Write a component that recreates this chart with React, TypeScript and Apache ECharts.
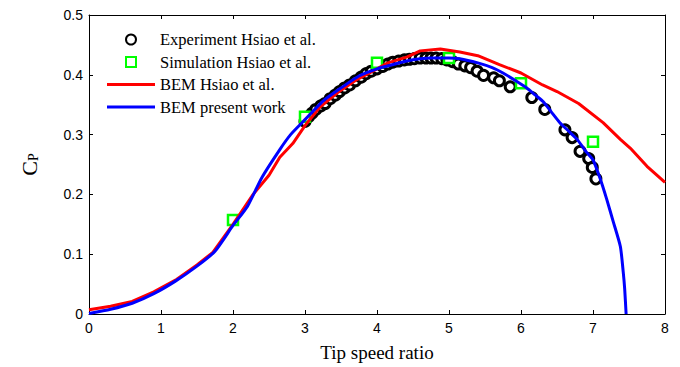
import React, { useEffect, useRef } from "react";
import * as echarts from "echarts";

const expX = [3.0, 3.05, 3.1, 3.15, 3.22, 3.28, 3.35, 3.42, 3.48, 3.55, 3.62, 3.7, 3.78, 3.85, 3.92, 4.0, 4.08, 4.15, 4.22, 4.3, 4.38, 4.45, 4.52, 4.6, 4.68, 4.75, 4.82, 4.9, 4.97, 5.05, 5.13, 5.22, 5.3, 5.39, 5.48, 5.62, 5.7, 5.85, 6.15, 6.33, 6.61, 6.71, 6.82, 6.94, 6.99, 7.04];
const expY = [0.322, 0.33, 0.336, 0.342, 0.348, 0.352, 0.36, 0.366, 0.372, 0.378, 0.383, 0.39, 0.396, 0.402, 0.406, 0.41, 0.414, 0.418, 0.421, 0.423, 0.425, 0.426, 0.427, 0.428, 0.428, 0.428, 0.428, 0.427, 0.425, 0.422, 0.418, 0.415, 0.412, 0.406, 0.399, 0.395, 0.39, 0.38, 0.362, 0.342, 0.308, 0.295, 0.272, 0.26, 0.245, 0.226];

const simX = [2, 3, 4, 5, 6, 7];
const simY = [0.157, 0.33, 0.42, 0.428, 0.386, 0.288];

const bemHX = [0, 0.3, 0.6, 0.9, 1.22, 1.5, 1.72, 2.0, 2.28, 2.5, 2.65, 2.83, 3.0, 3.2, 3.45, 3.72, 4.0, 4.15, 4.42, 4.6, 4.88, 5.15, 5.4, 5.7, 6.0, 6.3, 6.5, 6.8, 7.14, 7.38, 7.52, 7.75, 8.0];
const bemHY = [0.007, 0.013, 0.021, 0.037, 0.058, 0.082, 0.103, 0.15, 0.2, 0.232, 0.262, 0.285, 0.315, 0.345, 0.37, 0.392, 0.41, 0.42, 0.43, 0.44, 0.443, 0.438, 0.432, 0.417, 0.403, 0.383, 0.372, 0.352, 0.32, 0.292, 0.277, 0.247, 0.22];

const bemPX = [0, 0.3, 0.6, 0.9, 1.2, 1.5, 1.75, 2.0, 2.2, 2.4, 2.65, 2.8, 3.0, 3.25, 3.5, 3.75, 4.0, 4.25, 4.5, 4.75, 5.0, 5.15, 5.4, 5.6, 5.75, 5.9, 6.08, 6.2, 6.31, 6.42, 6.54, 6.66, 6.78, 6.9, 7.0, 7.1, 7.19, 7.28, 7.38, 7.42, 7.44, 7.46];
const bemPY = [0.001, 0.008, 0.018, 0.034, 0.055, 0.08, 0.105, 0.148, 0.18, 0.228, 0.275, 0.3, 0.325, 0.356, 0.378, 0.398, 0.41, 0.418, 0.425, 0.428, 0.428, 0.427, 0.42, 0.412, 0.403, 0.392, 0.378, 0.366, 0.355, 0.338, 0.32, 0.306, 0.292, 0.272, 0.258, 0.226, 0.192, 0.155, 0.113, 0.07, 0.042, 0.0];

const xTicks = ["0", "1", "2", "3", "4", "5", "6", "7", "8"];
const yTicks = ["0", "0.1", "0.2", "0.3", "0.4", "0.5"];

const zip = (xs: number[], ys: number[]) => xs.map((x, i) => [x, ys[i]]);

export default function App() {
  const ref = useRef<HTMLDivElement>(null);
  useEffect(() => {
    if (!ref.current) return;
    const chart = echarts.init(ref.current, null, { renderer: "svg" });
    const axisCommon = {
      axisLine: { show: true, onZero: false, lineStyle: { color: "#000", width: 1 } },
      axisTick: { show: true, inside: true, length: 4, lineStyle: { color: "#000" } },
      splitLine: { show: false },
    };
    const labelStyle = { color: "#000", fontFamily: "Liberation Sans", fontSize: 14 };
    const squareIcon = "path://M0,0L10,0L10,10L0,10Z";
    const lineIcon = "path://M0,0L48,0L48,3L0,3Z";
    chart.setOption({
      animation: false,
      backgroundColor: "#fff",
      grid: { left: 89, top: 15, right: 15, bottom: 52 },
      legend: {
        left: 107,
        top: 31,
        padding: 0,
        orient: "vertical",
        itemWidth: 48,
        itemHeight: 10,
        itemGap: 5.5,
        symbolKeepAspect: true,
        textStyle: { fontFamily: "Liberation Serif", fontSize: 16.5, color: "#000", lineHeight: 17 },
        data: [
          { name: "Experiment Hsiao et al.", icon: "circle" },
          { name: "Simulation Hsiao et al.", icon: squareIcon },
          { name: "BEM Hsiao et al.", icon: lineIcon, itemStyle: { color: "#ff0000", borderWidth: 0 } },
          { name: "BEM present work", icon: lineIcon, itemStyle: { color: "#0000ff", borderWidth: 0 } },
        ],
      },
      xAxis: [
        {
          type: "value",
          min: 0,
          max: 8,
          interval: 1,
          position: "bottom",
          ...axisCommon,
          axisLabel: { ...labelStyle, margin: 7, formatter: (v: number) => xTicks[Math.round(v)] },
          name: "Tip speed ratio",
          nameLocation: "middle",
          nameGap: 29,
          nameTextStyle: { fontFamily: "Liberation Serif", fontSize: 19, color: "#000" },
        },
        {
          type: "value",
          min: 0,
          max: 8,
          interval: 1,
          position: "top",
          ...axisCommon,
          axisLabel: { show: false },
        },
      ],
      yAxis: [
        {
          type: "value",
          min: 0,
          max: 0.5,
          interval: 0.1,
          position: "left",
          ...axisCommon,
          axisLabel: { ...labelStyle, margin: 6, formatter: (v: number) => yTicks[Math.round(v * 10)] },
          name: "{c|C}{p|P}",
          nameLocation: "middle",
          nameGap: 49,
          nameRotate: 90,
          nameTextStyle: {
            rich: {
              c: { fontFamily: "Liberation Serif", fontSize: 22, color: "#000" },
              p: { fontFamily: "Liberation Serif", fontSize: 14, color: "#000", verticalAlign: "bottom", padding: [8, 0, 0, 0] },
            },
          },
        },
        {
          type: "value",
          min: 0,
          max: 0.5,
          interval: 0.1,
          position: "right",
          ...axisCommon,
          axisLabel: { show: false },
        },
      ],
      series: [
        {
          name: "Experiment Hsiao et al.",
          type: "scatter",
          data: zip(expX, expY),
          symbol: "circle",
          symbolSize: 10,
          itemStyle: { color: "#fff", borderColor: "#000", borderWidth: 3, opacity: 1 },
          z: 2,
        },
        {
          name: "Simulation Hsiao et al.",
          type: "scatter",
          data: zip(simX, simY),
          symbol: "rect",
          symbolSize: 10,
          itemStyle: { color: "#fff", borderColor: "#00ff00", borderWidth: 2.5, opacity: 1 },
          z: 3,
        },
        {
          name: "BEM Hsiao et al.",
          type: "line",
          data: zip(bemHX, bemHY),
          symbol: "none",
          showSymbol: false,
          lineStyle: { color: "#ff0000", width: 3 },
          itemStyle: { color: "#ff0000" },
          z: 4,
        },
        {
          name: "BEM present work",
          type: "line",
          data: zip(bemPX, bemPY),
          symbol: "none",
          showSymbol: false,
          smooth: 0.2,
          lineStyle: { color: "#0000ff", width: 3 },
          itemStyle: { color: "#0000ff" },
          z: 5,
        },
      ],
    });
    return () => chart.dispose();
  }, []);
  return <div ref={ref} style={{ width: 680, height: 367, position: "absolute", left: 0, top: 0 }} />;
}
